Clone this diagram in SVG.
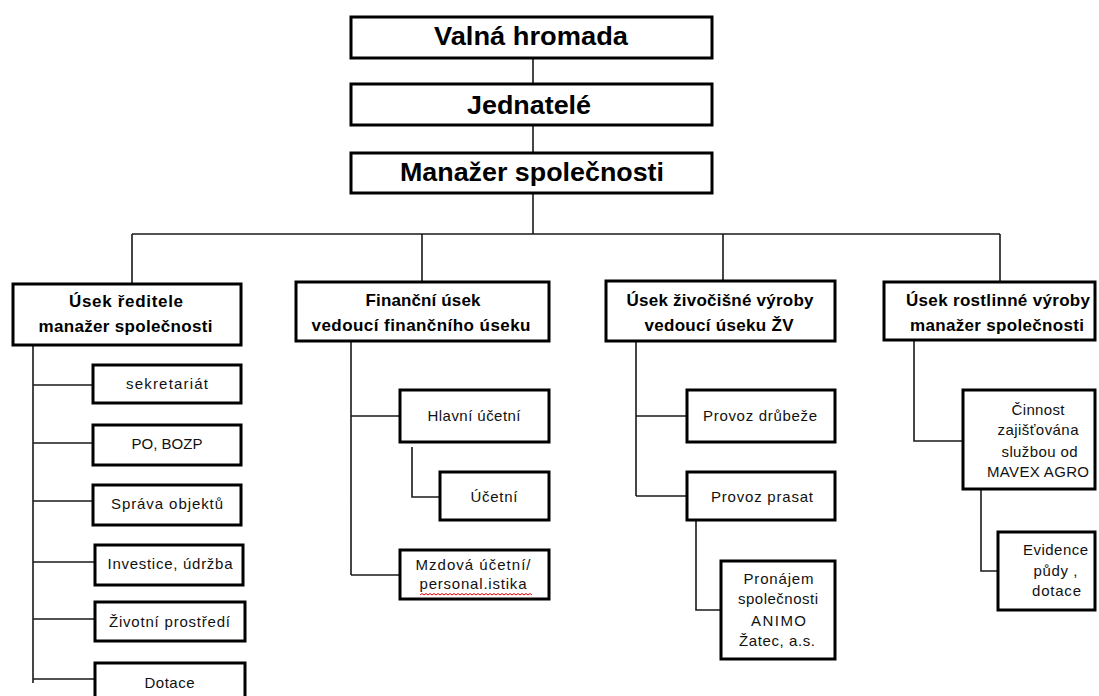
<svg xmlns="http://www.w3.org/2000/svg" width="1099" height="696" viewBox="0 0 1099 696">
<style>
.box{fill:#fff;stroke:#000;stroke-width:3}
.ln{fill:none;stroke:#1a1a1a;stroke-width:1.6}
.t1{font-family:"Liberation Sans",Arial,sans-serif;font-weight:bold;font-size:26px;fill:#000;text-anchor:middle}
.t2{font-family:"Liberation Sans",Arial,sans-serif;font-weight:bold;font-size:17px;fill:#000;text-anchor:middle}
.t3{font-family:"Liberation Sans",Arial,sans-serif;font-size:15px;fill:#111;text-anchor:middle}
</style>
<rect width="1099" height="696" fill="#fff"/>
<g id="connectors">
<path class="ln" d="M533 58V84M533 125V153M533 193V234M132 234H1000M132 234V284M422 234V282M723 234V281M1000 234V282"/>
<path class="ln" d="M33 345V683M33 385H93M33 443H93M33 501H93M33 562H95M33 619H95M33 679H95"/>
<path class="ln" d="M351 341V575M351 416H400M351 575H400M412 447V497H440"/>
<path class="ln" d="M636 341V496M636 416H687M636 496H687M696 520V610H721"/>
<path class="ln" d="M914 340V441H963M981 489V571H998"/>
</g>
<g id="valna"><rect class="box" x="351" y="17" width="361" height="41"/><text class="t1" x="531" y="45" textLength="194" lengthAdjust="spacingAndGlyphs">Valná hromada</text></g>
<g id="jednatele"><rect class="box" x="351" y="84" width="361" height="41"/><text class="t1" x="529" y="114" textLength="124" lengthAdjust="spacingAndGlyphs">Jednatelé</text></g>
<g id="manazer"><rect class="box" x="351" y="153" width="361" height="40"/><text class="t1" x="532" y="181" textLength="264" lengthAdjust="spacingAndGlyphs">Manažer společnosti</text></g>

<g id="usek-reditele"><rect class="box" x="13" y="284" width="228" height="61"/><text class="t2" x="126" y="307" textLength="114">Úsek ředitele</text><text class="t2" x="125.5" y="332" textLength="174">manažer  společnosti</text></g>
<g id="sekretariat"><rect class="box" x="93" y="365" width="148" height="38"/><text class="t3" x="167" y="389" textLength="82">sekretariát</text></g>
<g id="po-bozp"><rect class="box" x="93" y="425" width="148" height="40"/><text class="t3" x="167" y="449" textLength="71">PO, BOZP</text></g>
<g id="sprava"><rect class="box" x="93" y="485" width="148" height="40"/><text class="t3" x="167" y="509" textLength="112">Správa objektů</text></g>
<g id="investice"><rect class="box" x="95" y="545" width="148" height="40"/><text class="t3" x="170" y="569" textLength="125">Investice, údržba</text></g>
<g id="zivotni"><rect class="box" x="95" y="602" width="150" height="39"/><text class="t3" x="169.5" y="627" textLength="121">Životní prostředí</text></g>
<g id="dotace"><rect class="box" x="95" y="663" width="150" height="50"/><text class="t3" x="169.5" y="688" textLength="50">Dotace</text></g>

<g id="financni"><rect class="box" x="296" y="282" width="253" height="59"/><text class="t2" x="423" y="306" textLength="115">Finanční úsek</text><text class="t2" x="421" y="331" textLength="219">vedoucí finančního  úseku</text></g>
<g id="hlavni-ucetni"><rect class="box" x="400" y="390" width="149" height="52"/><text class="t3" x="474" y="421" textLength="93">Hlavní účetní</text></g>
<g id="ucetni"><rect class="box" x="440" y="472" width="109" height="48"/><text class="t3" x="494" y="502" textLength="47">Účetní</text></g>
<g id="mzdova"><rect class="box" x="400" y="550" width="149" height="49"/><text class="t3" x="473" y="570" textLength="115">Mzdová účetní/</text><text class="t3" x="473" y="589" textLength="107">personal.istika</text><path d="M420 595l2 -1.5 2 1.5 2 -1.5 2 1.5 2 -1.5 2 1.5 2 -1.5 2 1.5 2 -1.5 2 1.5 2 -1.5 2 1.5 2 -1.5 2 1.5 2 -1.5 2 1.5 2 -1.5 2 1.5 2 -1.5 2 1.5 2 -1.5 2 1.5 2 -1.5 2 1.5 2 -1.5 2 1.5 2 -1.5 2 1.5 2 -1.5 2 1.5 2 -1.5 2 1.5 2 -1.5 2 1.5 2 -1.5 2 1.5 2 -1.5 2 1.5 2 -1.5 2 1.5 2 -1.5 2 1.5 2 -1.5 2 1.5 2 -1.5 2 1.5 2 -1.5 2 1.5 2 -1.5 2 1.5 2 -1.5 2 1.5 2 -1.5 2 1.5 2 -1.5 2 1.5" fill="none" stroke="#e00" stroke-width="1"/></g>

<g id="zivocisne"><rect class="box" x="606" y="281" width="229" height="60"/><text class="t2" x="720" y="306" textLength="187">Úsek živočišné  výroby</text><text class="t2" x="719" y="331" textLength="149">vedoucí úseku  ŽV</text></g>
<g id="drubez"><rect class="box" x="687" y="390" width="148" height="52"/><text class="t3" x="760" y="421" textLength="114">Provoz drůbeže</text></g>
<g id="prasata"><rect class="box" x="687" y="472" width="148" height="48"/><text class="t3" x="762" y="502" textLength="102">Provoz prasat</text></g>
<g id="pronajem"><rect class="box" x="721" y="561" width="114" height="98"/><text class="t3" x="778.5" y="584" textLength="70">Pronájem</text><text class="t3" x="778" y="604" textLength="80">společnosti</text><text class="t3" x="778.5" y="626" textLength="55">ANIMO</text><text class="t3" x="777" y="646" textLength="76">Žatec, a.s.</text></g>

<g id="rostlinne"><rect class="box" x="884" y="282" width="211" height="58"/><text class="t2" x="998" y="306" textLength="184">Úsek rostlinné výroby</text><text class="t2" x="997" y="331" textLength="174">manažer  společnosti</text></g>
<g id="cinnost"><rect class="box" x="963" y="390" width="132" height="99"/><text class="t3" x="1038" y="415" textLength="53">Činnost</text><text class="t3" x="1038" y="435" textLength="81">zajišťována</text><text class="t3" x="1039.5" y="456.5" textLength="76">službou od</text><text class="t3" x="1038" y="476.5" textLength="102">MAVEX AGRO</text></g>
<g id="evidence"><rect class="box" x="998" y="532" width="97" height="78"/><text class="t3" x="1055.5" y="555" textLength="65">Evidence</text><text class="t3" x="1055.5" y="575.5" textLength="44">půdy ,</text><text class="t3" x="1056.5" y="596" textLength="49">dotace</text></g>
</svg>
